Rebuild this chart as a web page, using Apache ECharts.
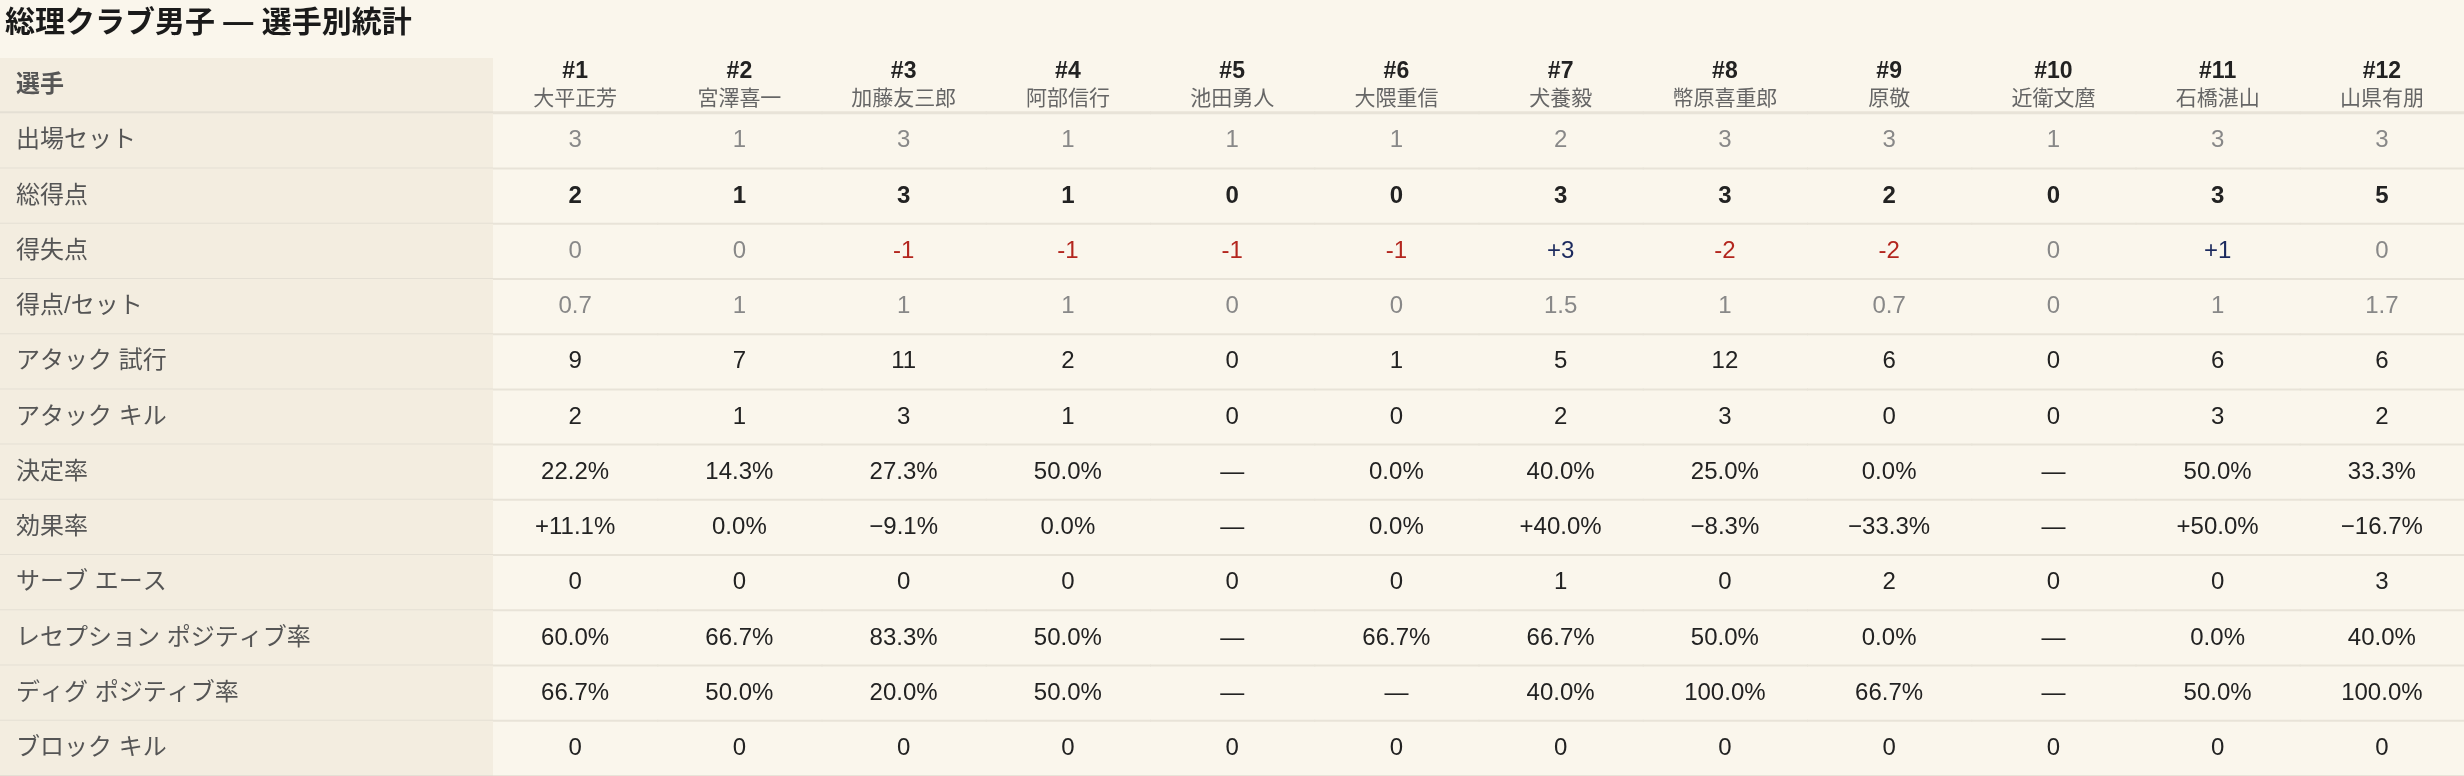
<!DOCTYPE html>
<html><head><meta charset="utf-8">
<script src="https://cdn.jsdelivr.net/npm/echarts@6/dist/echarts.min.js"></script>
<style>html,body{margin:0;background:#faf6ec}#c{width:2464px;height:776px}</style>
</head><body><div id="c"></div>
<script>
var numbers = ['#1','#2','#3','#4','#5','#6','#7','#8','#9','#10','#11','#12'];
var names = ['大平正芳','宮澤喜一','加藤友三郎','阿部信行','池田勇人','大隈重信','犬養毅','幣原喜重郎','原敬','近衛文麿','石橋湛山','山県有朋'];
var rowLabels = ['出場セット','総得点','得失点','得点/セット','アタック 試行','アタック キル','決定率','効果率','サーブ エース','レセプション ポジティブ率','ディグ ポジティブ率','ブロック キル'];
var setsPlayed = ['3','1','3','1','1','1','2','3','3','1','3','3'];
var totalPoints = ['2','1','3','1','0','0','3','3','2','0','3','5'];
var plusMinus = ['0','0','-1','-1','-1','-1','+3','-2','-2','0','+1','0'];
var pointsPerSet = ['0.7','1','1','1','0','0','1.5','1','0.7','0','1','1.7'];
var attackAtt = ['9','7','11','2','0','1','5','12','6','0','6','6'];
var attackKill = ['2','1','3','1','0','0','2','3','0','0','3','2'];
var killPct = ['22.2%','14.3%','27.3%','50.0%','—','0.0%','40.0%','25.0%','0.0%','—','50.0%','33.3%'];
var effPct = ['+11.1%','0.0%','−9.1%','0.0%','—','0.0%','+40.0%','−8.3%','−33.3%','—','+50.0%','−16.7%'];
var aces = ['0','0','0','0','0','0','1','0','2','0','0','3'];
var recPct = ['60.0%','66.7%','83.3%','50.0%','—','66.7%','66.7%','50.0%','0.0%','—','0.0%','40.0%'];
var digPct = ['66.7%','50.0%','20.0%','50.0%','—','—','40.0%','100.0%','66.7%','—','50.0%','100.0%'];
var blocks = ['0','0','0','0','0','0','0','0','0','0','0','0'];

var rows = [setsPlayed,totalPoints,plusMinus,pointsPerSet,attackAtt,attackKill,killPct,effPct,aces,recPct,digPct,blocks];
var FONT = '"Liberation Sans Narrow","Liberation Sans","Noto Sans CJK JP",sans-serif';
var LABEL_W = 493, TOP = 58;
var rowCats = ['head'].concat(rowLabels);

function cellColor(r, v) {
  if (r === 2) {
    if (v.charAt(0) === '-') return '#b3261e';
    if (v.charAt(0) === '+') return '#1c2a5e';
    return '#888';
  }
  if (r === 0 || r === 3) return '#888';
  return '#222';
}

var data = [];
numbers.forEach(function (n, c) {
  data.push([c, 0, n, names[c]]);
  rows.forEach(function (row, r) { data.push([c, r + 1, row[c], r]); });
});
var labelData = rowCats.map(function (l, i) { return [0, i, i === 0 ? '選手' : l]; });

var chart = echarts.init(document.getElementById('c'), null, {renderer: 'canvas'});
chart.setOption({
  backgroundColor: '#faf6ec',
  animation: false,
  title: {text: '総理クラブ男子 — 選手別統計', left: 0, top: 4,
    textStyle: {fontFamily: FONT, fontSize: 30, fontWeight: 'bold', color: '#1a1a1a'}},
  grid: [
    {left: LABEL_W, right: 0, top: TOP, bottom: 0},
    {left: 0, width: LABEL_W, top: TOP, bottom: 0}
  ],
  xAxis: [
    {type: 'category', data: numbers, show: false, gridIndex: 0},
    {type: 'category', data: ['label'], show: false, gridIndex: 1}
  ],
  yAxis: [
    {type: 'category', data: rowCats, inverse: true, show: false, gridIndex: 0},
    {type: 'category', data: rowCats, inverse: true, show: false, gridIndex: 1}
  ],
  series: [
    {
      type: 'custom', xAxisIndex: 1, yAxisIndex: 1, data: labelData,
      renderItem: function (params, api) {
        var p = api.coord([api.value(0), api.value(1)]);
        var s = api.size([1, 1]);
        var i = api.value(1);
        return {type: 'group', children: [
          {type: 'rect', shape: {x: 0, y: p[1] - s[1] / 2, width: LABEL_W, height: s[1]},
            style: {fill: '#f3ede0'}},
          {type: 'rect', shape: {x: 0, y: p[1] + s[1] / 2 - (i === 0 ? 2 : 1), width: LABEL_W, height: i === 0 ? 3 : 2},
            style: {fill: '#e4dfd4'}},
          {type: 'text', x: 16, y: p[1], style: {text: labelData[i][2], fontFamily: FONT,
            fontSize: 24, fontWeight: i === 0 ? 'bold' : 'normal', fill: '#555', verticalAlign: 'middle'}}
        ]};
      }
    },
    {
      type: 'custom', xAxisIndex: 0, yAxisIndex: 0, data: data,
      renderItem: function (params, api) {
        var d = data[params.dataIndex];
        var p = api.coord([d[0], d[1]]);
        var s = api.size([1, 1]);
        var children = [
          {type: 'rect', shape: {x: p[0] - s[0] / 2, y: p[1] + s[1] / 2 - (d[1] === 0 ? 2 : 1), width: s[0] + 1, height: d[1] === 0 ? 3 : 2},
            style: {fill: '#e8e3d8'}}
        ];
        if (d[1] === 0) {
          children.push({type: 'text', x: p[0], y: p[1] - 14, style: {text: d[2], fontFamily: FONT,
            fontSize: 23, fontWeight: 'bold', fill: '#222', align: 'center', verticalAlign: 'middle'}});
          children.push({type: 'text', x: p[0], y: p[1] + 14, style: {text: d[3], fontFamily: FONT,
            fontSize: 21, fill: '#666', align: 'center', verticalAlign: 'middle'}});
        } else {
          children.push({type: 'text', x: p[0], y: p[1], style: {text: d[2], fontFamily: FONT,
            fontSize: 24, fontWeight: d[3] === 1 ? 'bold' : 'normal', fill: cellColor(d[3], d[2]),
            align: 'center', verticalAlign: 'middle'}});
        }
        return {type: 'group', children: children};
      }
    }
  ]
});
</script></body></html>
